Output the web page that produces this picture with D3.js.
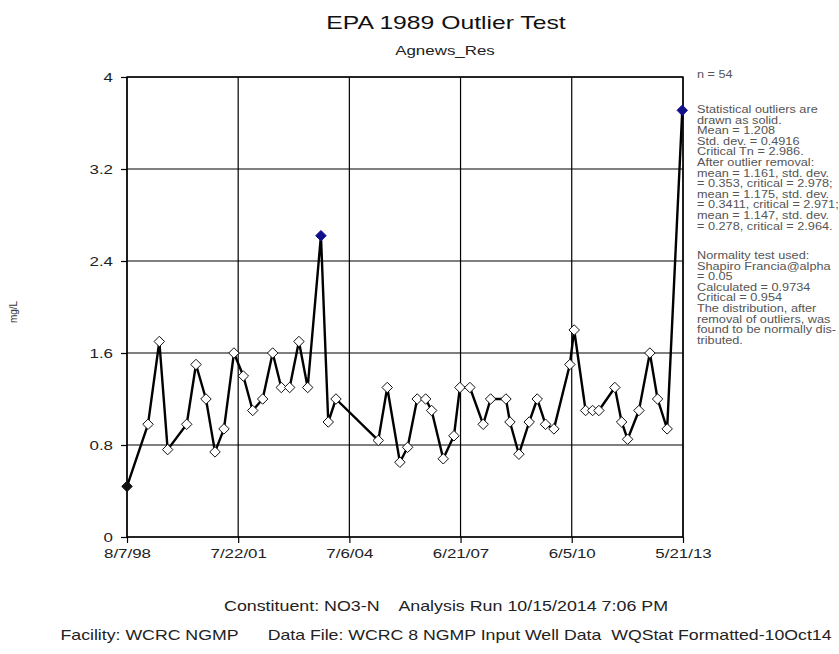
<!DOCTYPE html>
<html>
<head>
<meta charset="UTF-8">
<title>EPA 1989 Outlier Test</title>
<script src="https://cdnjs.cloudflare.com/ajax/libs/d3/7.8.5/d3.min.js"></script>
<style>
  body { margin: 0; background: #fff; }
  svg { font-family: "Liberation Sans", Arial, sans-serif; }
  svg text { white-space: pre; }
</style>
</head>
<body>
<svg id="chart" width="839" height="654"></svg>
<script>
// sample dates and NO3-N values (mg/L)
var dates = ["1998-08-07","1999-02-27","1999-06-17","1999-09-06","2000-03-09","2000-06-07",
  "2000-09-12","2000-12-09","2001-03-06","2001-06-11","2001-09-10","2001-12-10",
  "2002-03-17","2002-06-22","2002-09-14","2002-12-04","2003-03-04","2003-05-28",
  "2003-10-04","2003-12-14","2004-02-27","2005-04-13","2005-07-09","2005-11-09",
  "2006-01-23","2006-04-26","2006-07-17","2006-09-13","2007-01-04","2007-04-18",
  "2007-06-15","2007-09-20","2008-01-27","2008-04-08","2008-09-04","2008-10-13",
  "2009-01-08","2009-04-18","2009-07-05","2009-09-24","2009-12-14","2010-05-18",
  "2010-06-29","2010-10-18","2010-12-25","2011-02-24","2011-07-29","2011-10-03",
  "2011-11-30","2012-03-19","2012-07-03","2012-09-16","2012-12-18","2013-05-14"];
var values = [0.44, 0.98, 1.7, 0.76, 0.98, 1.5,
  1.2, 0.74, 0.94, 1.6, 1.4, 1.1,
  1.2, 1.6, 1.3, 1.3, 1.7, 1.3,
  2.62, 1.0, 1.2, 0.84, 1.3, 0.65,
  0.78, 1.2, 1.2, 1.1, 0.68, 0.88,
  1.3, 1.3, 0.98, 1.2, 1.2, 1.0,
  0.72, 1.0, 1.2, 0.98, 0.94, 1.5,
  1.8, 1.1, 1.1, 1.1, 1.3, 1.0,
  0.85, 1.1, 1.6, 1.2, 0.94, 3.71];
var outliers = [18, 53];   // statistical outliers (solid)
var flagged = [0];         // drawn solid black

var yTicks = [0, 0.8, 1.6, 2.4, 3.2, 4];
var yTickLabels = ["0", "0.8", "1.6", "2.4", "3.2", "4"];
var xTicks = ["1998-08-07","2001-07-22","2004-07-06","2007-06-21","2010-06-05","2013-05-21"];
var xTickLabels = ["8/7/98", "7/22/01", "7/6/04", "6/21/07", "6/5/10", "5/21/13"];

var notes = ["Statistical outliers are", "drawn as solid.", "Mean = 1.208",
  "Std. dev. = 0.4916", "Critical Tn = 2.986.", "After outlier removal:",
  "mean = 1.161, std. dev.", "= 0.353, critical = 2.978;", "mean = 1.175, std. dev.",
  "= 0.3411, critical = 2.971;", "mean = 1.147, std. dev.", "= 0.278, critical = 2.964."];
var notes2 = ["Normality test used:", "Shapiro Francia@alpha", "= 0.05",
  "Calculated = 0.9734", "Critical = 0.954", "The distribution, after",
  "removal of outliers, was", "found to be normally dis-", "tributed."];

var parse = d3.timeParse("%Y-%m-%d");
var data = dates.map(function (d, i) {
  return { date: parse(d), value: values[i], i: i };
});

// the reference text is drawn wide, stretch each label horizontally
function stretch(sel, k) {
  sel.each(function () {
    var w = this.getComputedTextLength();
    d3.select(this).attr("textLength", w * k).attr("lengthAdjust", "spacingAndGlyphs");
  });
}

var svg = d3.select("#chart");
var pL = 127, pR = 683, pT = 77, pB = 537;

var x = d3.scaleTime()
  .domain([parse(xTicks[0]), parse(xTicks[xTicks.length - 1])])
  .range([pL, pR]);
var y = d3.scaleLinear().domain([0, 4]).range([pB, pT]);

// grid
svg.append("g").selectAll("line").data(yTicks).join("line")
  .attr("x1", pL).attr("x2", pR)
  .attr("y1", function (d) { return y(d); }).attr("y2", function (d) { return y(d); })
  .attr("stroke", "#000").attr("stroke-width", 1.2);
svg.append("g").selectAll("line").data(xTicks).join("line")
  .attr("x1", function (d) { return x(parse(d)); }).attr("x2", function (d) { return x(parse(d)); })
  .attr("y1", pT).attr("y2", pB)
  .attr("stroke", "#000").attr("stroke-width", 1.2);

// axes
var yAxis = d3.axisLeft(y).tickValues(yTicks)
  .tickFormat(function (d, i) { return yTickLabels[i]; })
  .tickSize(6).tickPadding(8);
svg.append("g").attr("transform", "translate(" + pL + ",0)").call(yAxis)
  .call(function (g) {
    g.select(".domain").remove();
    g.selectAll("line").attr("stroke-width", 1.2);
    g.selectAll("text").attr("font-size", 13).attr("fill", "#222")
      .attr("font-family", "Liberation Sans, Arial, sans-serif").call(stretch, 1.3);
  });

var xAxis = d3.axisBottom(x).tickValues(xTicks.map(parse))
  .tickFormat(function (d, i) { return xTickLabels[i]; })
  .tickSize(6).tickPadding(6);
svg.append("g").attr("transform", "translate(0," + pB + ")").call(xAxis)
  .call(function (g) {
    g.select(".domain").remove();
    g.selectAll("line").attr("stroke-width", 1.2);
    g.selectAll("text").attr("font-size", 13).attr("fill", "#222")
      .attr("font-family", "Liberation Sans, Arial, sans-serif").call(stretch, 1.3);
  });

// frame
svg.append("rect").attr("x", pL).attr("y", pT)
  .attr("width", pR - pL).attr("height", pB - pT)
  .attr("fill", "none").attr("stroke", "#000").attr("stroke-width", 1.4);

// series line
var line = d3.line()
  .x(function (d) { return x(d.date); })
  .y(function (d) { return y(d.value); });
svg.append("path").datum(data)
  .attr("fill", "none").attr("stroke", "#000")
  .attr("stroke-width", 2.4).attr("stroke-linejoin", "round")
  .attr("d", line);

// markers
var diamond = d3.symbol().type(d3.symbolDiamond2).size(70);
svg.append("g").selectAll("path").data(data).join("path")
  .attr("transform", function (d) { return "translate(" + x(d.date) + "," + y(d.value) + ")"; })
  .attr("d", diamond)
  .attr("fill", function (d) {
    if (outliers.indexOf(d.i) >= 0) return "#10108a";
    if (flagged.indexOf(d.i) >= 0) return "#111";
    return "#fff";
  })
  .attr("stroke", function (d) {
    return outliers.indexOf(d.i) >= 0 ? "#10108a" : "#111";
  })
  .attr("stroke-width", 1);

// titles
svg.append("text").attr("x", 446).attr("y", 29).attr("text-anchor", "middle")
  .attr("font-size", 19).attr("fill", "#111").text("EPA 1989 Outlier Test").call(stretch, 1.3);
svg.append("text").attr("x", 445).attr("y", 55).attr("text-anchor", "middle")
  .attr("font-size", 13).attr("fill", "#222").text("Agnews_Res").call(stretch, 1.3);

svg.append("text").attr("transform", "translate(17,312) rotate(-90)")
  .attr("text-anchor", "middle").attr("font-size", 10).attr("fill", "#333").text("mg/L");

// side notes
var notesG = svg.append("g").attr("font-size", 10).attr("fill", "#555");
notesG.append("text").attr("x", 697).attr("y", 78).text("n = 54");
notesG.selectAll("text.a").data(notes).join("text").attr("class", "a")
  .attr("x", 697).attr("y", function (d, i) { return 113 + i * 10.6; }).text(function (d) { return d; });
notesG.selectAll("text.b").data(notes2).join("text").attr("class", "b")
  .attr("x", 697).attr("y", function (d, i) { return 259 + i * 10.6; }).text(function (d) { return d; });
notesG.selectAll("text").call(stretch, 1.27);

// footer
svg.append("text").attr("x", 446).attr("y", 611).attr("text-anchor", "middle")
  .attr("font-size", 14.5).attr("fill", "#222")
  .attr("textLength", 444).attr("lengthAdjust", "spacingAndGlyphs")
  .text("Constituent: NO3-N    Analysis Run 10/15/2014 7:06 PM");
svg.append("text").attr("x", 446).attr("y", 640).attr("text-anchor", "middle")
  .attr("font-size", 14.5).attr("fill", "#222")
  .attr("textLength", 771).attr("lengthAdjust", "spacingAndGlyphs")
  .text("Facility: WCRC NGMP      Data File: WCRC 8 NGMP Input Well Data  WQStat Formatted-10Oct14");
</script>
</body>
</html>
